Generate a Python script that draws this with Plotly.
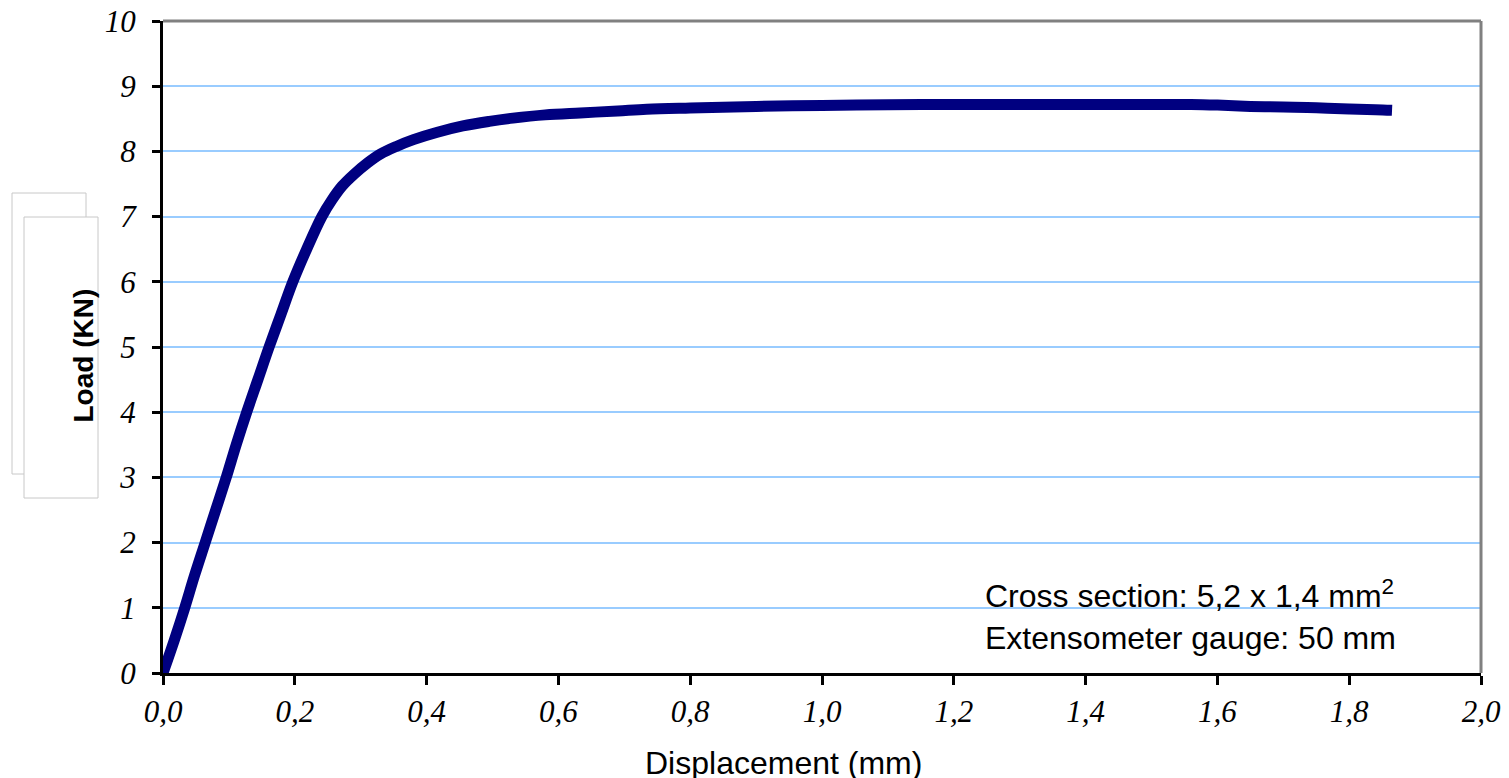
import plotly.graph_objects as go

# Data
displacement_mm = [0.000, 0.017, 0.033, 0.048, 0.064, 0.080, 0.096, 0.111, 0.127,
                   0.144, 0.161, 0.179, 0.197, 0.218, 0.241, 0.256, 0.272, 0.290, 0.310,
                   0.330, 0.355, 0.380, 0.415, 0.455, 0.495, 0.531, 0.580, 0.633, 0.690,
                   0.734, 0.800, 0.900, 1.000, 1.100, 1.200, 1.300, 1.400, 1.500, 1.560,
                   1.600, 1.650, 1.700, 1.750, 1.800, 1.840, 1.865]
load_kn = [0.00, 0.50, 1.00, 1.50, 2.00, 2.50, 3.00, 3.50, 4.00,
           4.50, 5.00, 5.50, 6.00, 6.50, 7.00, 7.25, 7.47, 7.65, 7.82,
           7.96, 8.08, 8.18, 8.29, 8.39, 8.46, 8.51, 8.56, 8.59, 8.62,
           8.645, 8.665, 8.69, 8.705, 8.715, 8.72, 8.72, 8.72, 8.72, 8.72,
           8.71, 8.69, 8.68, 8.67, 8.65, 8.64, 8.63]

x_tickvals = [0.0, 0.2, 0.4, 0.6, 0.8, 1.0, 1.2, 1.4, 1.6, 1.8, 2.0]
x_ticktext = ["0,0", "0,2", "0,4", "0,6", "0,8", "1,0", "1,2", "1,4", "1,6", "1,8", "2,0"]
y_tickvals = [0, 1, 2, 3, 4, 5, 6, 7, 8, 9, 10]

# page layout (the page body adds an 8 px offset)
OFF = 8
W, H = 1509 - OFF, 778 - OFF
PL, PT, PR, PB = 163, 21, 1481, 673  # plot area in page pixels
PW, PH = PR - PL, PB - PT


def px(xp):
    return (xp - PL) / PW


def py(yp):
    return (PB - yp) / PH


fig = go.Figure()
fig.add_trace(go.Scatter(
    x=displacement_mm, y=load_kn, mode="lines",
    line=dict(color="#000080", width=11, shape="spline", smoothing=1.0),
    showlegend=False, hoverinfo="skip",
))

tick_font = dict(family="Liberation Serif", size=31, color="black", style="italic")

fig.update_layout(
    width=W, height=H,
    margin=dict(l=PL - OFF, r=OFF + W - PR, t=PT - OFF, b=OFF + H - PB, autoexpand=False),
    paper_bgcolor="white", plot_bgcolor="white",
    xaxis=dict(
        range=[0, 2.0], tickvals=x_tickvals, ticktext=x_ticktext, automargin=False,
        showgrid=False, zeroline=False, showline=True, linecolor="black", linewidth=3,
        ticks="outside", ticklen=9, tickwidth=3, tickcolor="black",
        tickfont=tick_font, ticklabelstandoff=0, ticklabeloverflow="allow",
    ),
    yaxis=dict(
        range=[0, 10], tickvals=y_tickvals, automargin=False,
        showgrid=True, gridcolor="#99CCFF", gridwidth=2,
        zeroline=False, showline=True, linecolor="black", linewidth=3,
        ticks="outside", ticklen=8, tickwidth=3, tickcolor="black",
        tickfont=tick_font, ticklabelstandoff=10, ticklabeloverflow="allow",
    ),
)

shapes = [
    # top and right gray frame
    dict(type="line", xref="paper", yref="paper", x0=0, x1=1, y0=1, y1=1,
         line=dict(color="#808080", width=3), layer="above"),
    dict(type="line", xref="paper", yref="paper", x0=1, x1=1, y0=0, y1=1,
         line=dict(color="#808080", width=3), layer="above"),
    # white backing behind the note text (covers gridline)
    dict(type="rect", xref="paper", yref="paper", x0=px(950), x1=px(1465),
         y0=py(652), y1=py(575), fillcolor="white", line=dict(width=0), layer="between"),
    # y-title boxes
    dict(type="rect", xref="paper", yref="paper", x0=px(12), x1=px(86),
         y0=py(474), y1=py(193), fillcolor="white",
         line=dict(color="#C8C8C8", width=1), layer="above"),
    dict(type="rect", xref="paper", yref="paper", x0=px(24), x1=px(98),
         y0=py(498), y1=py(217), fillcolor="white",
         line=dict(color="#C8C8C8", width=1), layer="above"),
]
fig.update_layout(shapes=shapes)

fig.add_annotation(
    xref="paper", yref="paper", x=px(65), y=py(356),
    text="<b>Load (KN)</b>", textangle=-90, showarrow=False,
    font=dict(family="Liberation Sans", size=28, color="black"),
)
fig.add_annotation(
    xref="paper", yref="paper", x=px(783), y=py(783),
    text="Displacement (mm)", showarrow=False,
    font=dict(family="Liberation Sans", size=32, color="black"),
)
fig.add_annotation(
    xref="paper", yref="paper", x=px(983), y=py(615), xanchor="left", yanchor="middle",
    align="left", showarrow=False,
    text="Cross section: 5,2 x 1,4 mm<sup>2</sup><br>Extensometer gauge: 50 mm",
    font=dict(family="Liberation Sans", size=32, color="black"),
)

fig.write_html("out.html")
